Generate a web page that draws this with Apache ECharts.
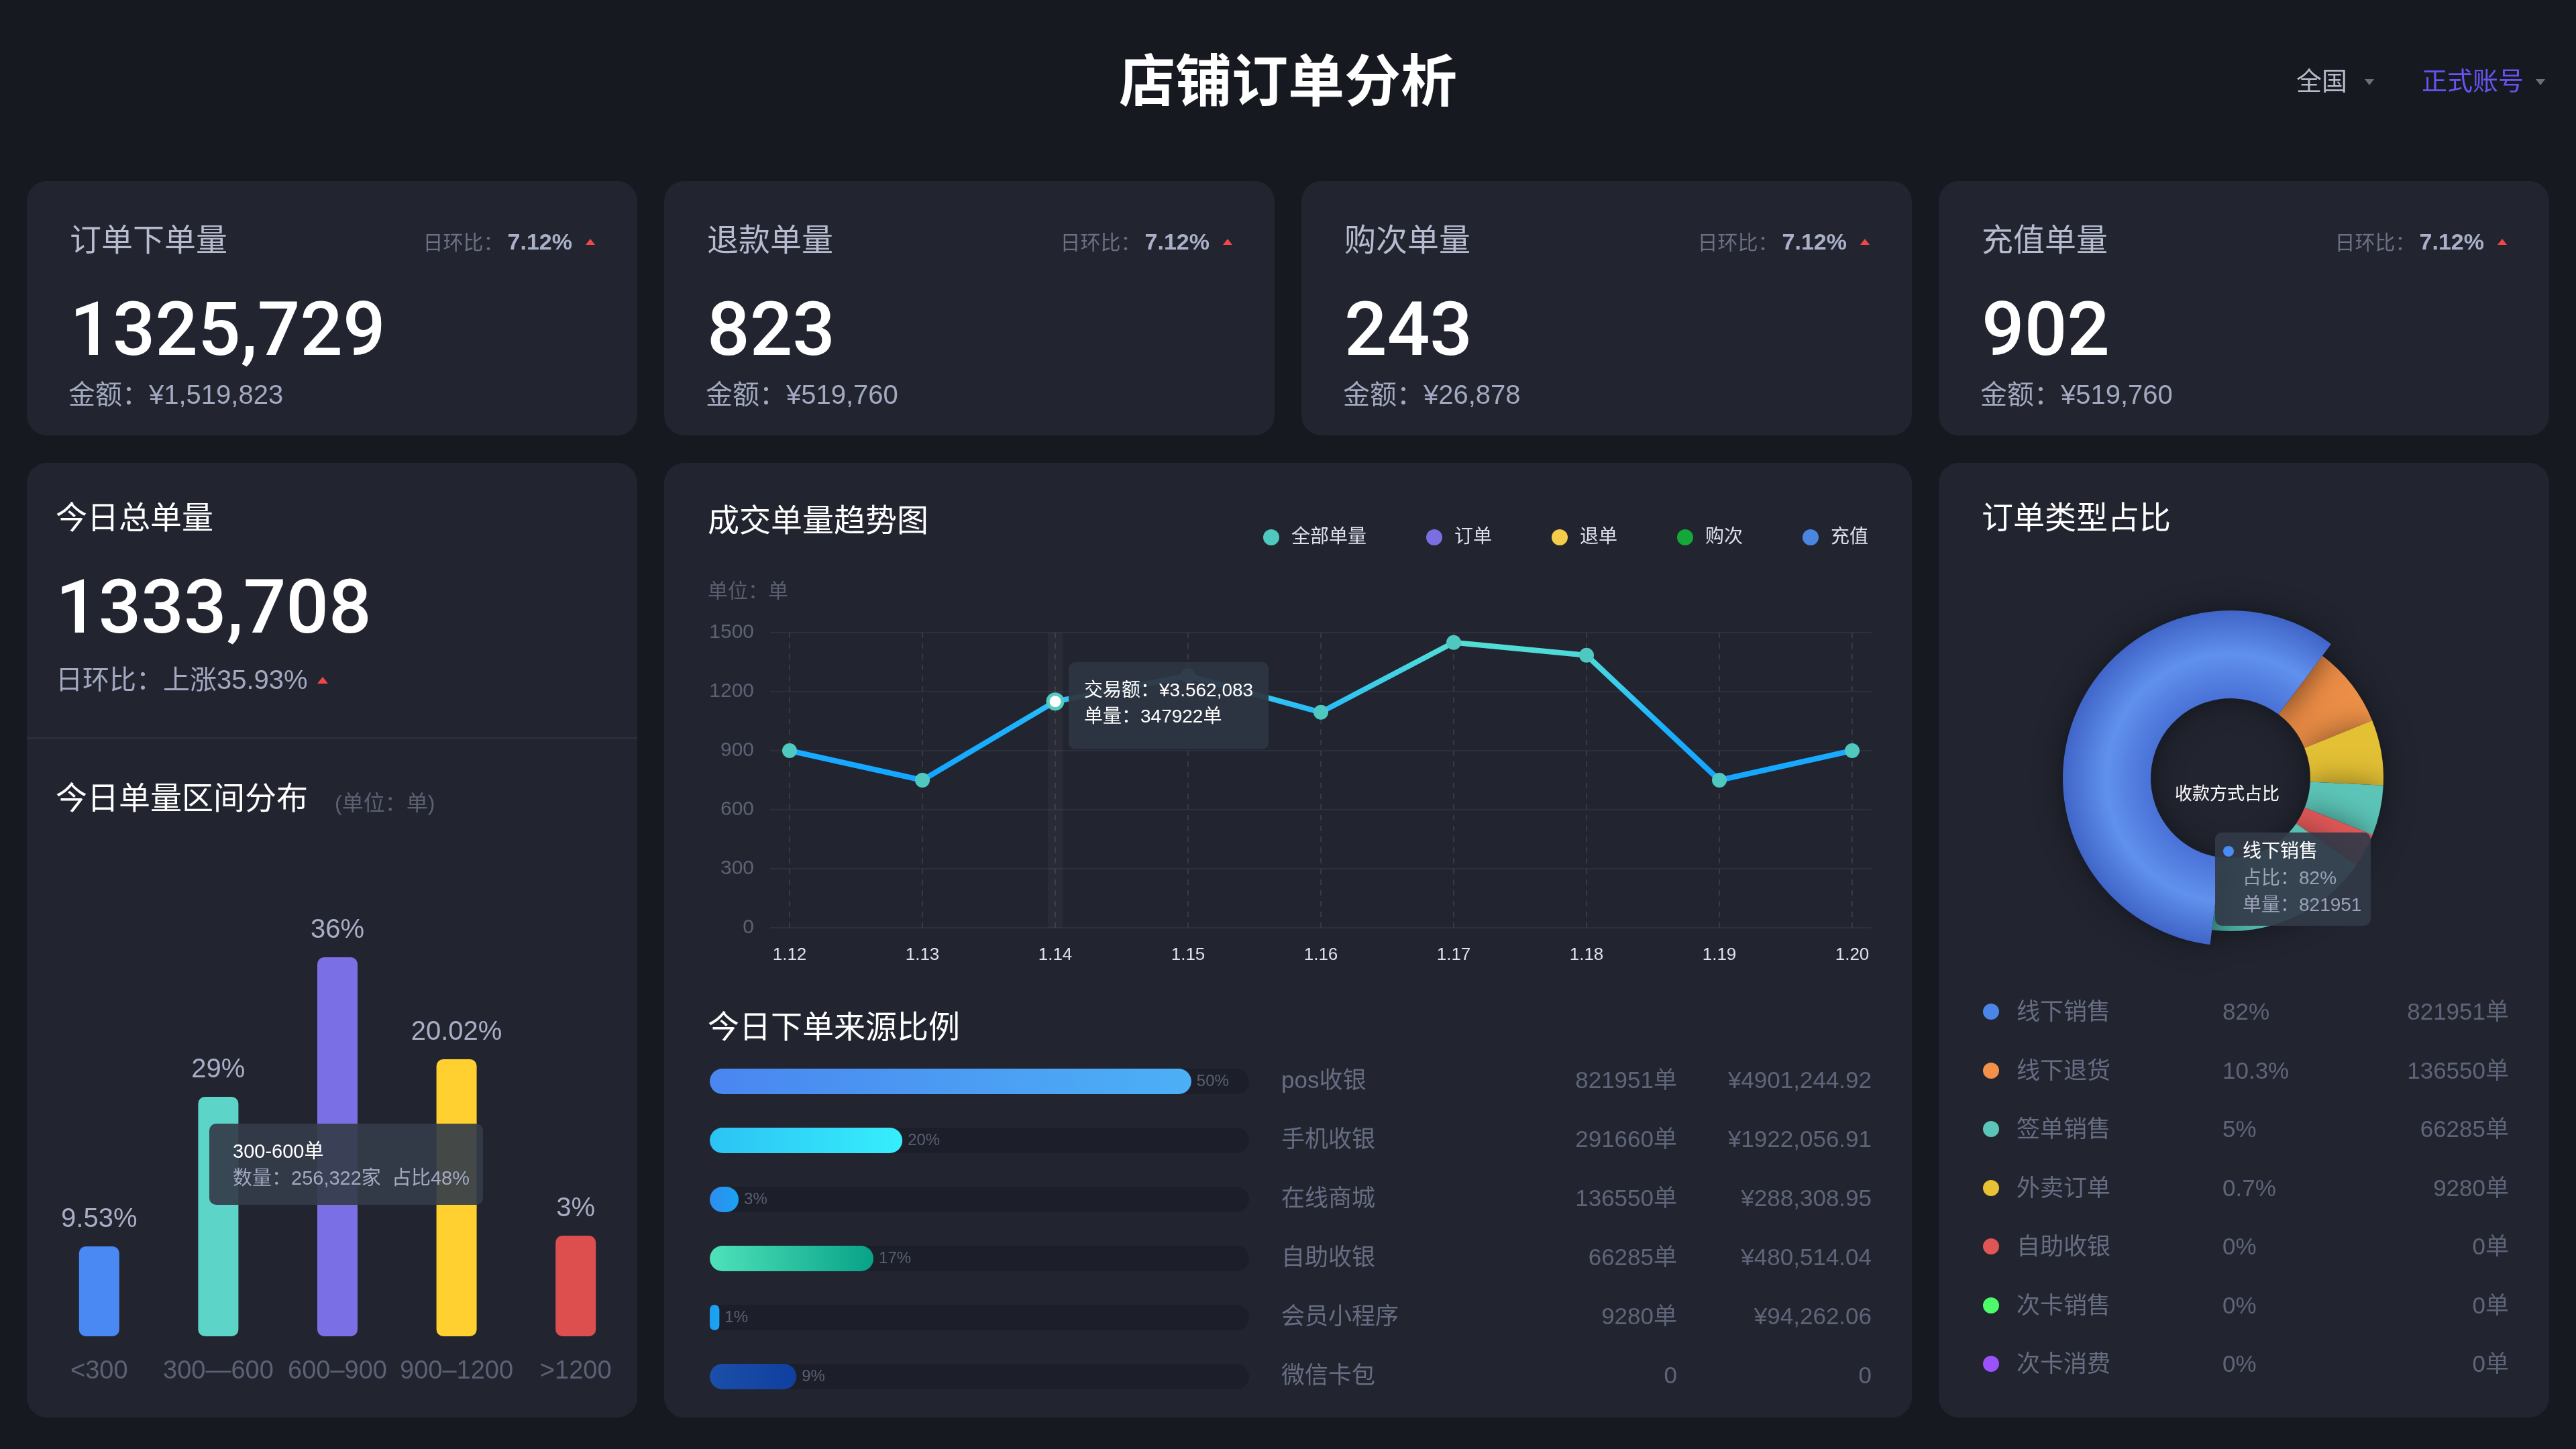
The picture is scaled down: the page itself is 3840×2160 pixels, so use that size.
<!DOCTYPE html>
<html><head><meta charset="utf-8">
<script src="https://cdn.jsdelivr.net/npm/echarts@6/dist/echarts.min.js"></script>
<style>
html,body{margin:0;padding:0;width:3840px;height:2160px;background:#161920;overflow:hidden;font-family:'Liberation Sans','Noto Sans CJK SC',sans-serif;}
.panel{position:absolute;background:#222530;border-radius:30px;}
.t{position:absolute;white-space:nowrap;}
.chart{position:absolute;left:0;top:0;width:3840px;height:2160px;}
.tri{display:inline-block;width:0;height:0;vertical-align:middle;}
.num{font-family:Roboto,'Liberation Sans',sans-serif;font-weight:500;}
</style></head><body>
<script>
// ---------------- data ----------------
const pageTitle = '店铺订单分析';
const cardTitles = ['订单下单量', '退款单量', '购次单量', '充值单量'];
const cardCounts = ['1325,729', '823', '243', '902'];
const cardAmounts = ['¥1,519,823', '¥519,760', '¥26,878', '¥519,760'];
const cardRatios = ['7.12%', '7.12%', '7.12%', '7.12%'];

const totalOrders = '1333,708';
const totalRise = '35.93%';

const rangeCats = ['<300', '300—600', '600–900', '900–1200', '>1200'];
const rangeValues = [134, 357, 565, 413, 150];
const rangeLabels = ['9.53%', '29%', '36%', '20.02%', '3%'];
const rangeColors = ['#4a89f3', '#5cd4c8', '#7b6fe6', '#ffd02f', '#dd4f4f'];
const rangeTip = { index: 1, title: '300-600单', count: '256,322家', share: '占比48%' };

const trendDates = ['1.12', '1.13', '1.14', '1.15', '1.16', '1.17', '1.18', '1.19', '1.20'];
const trendAll = [900, 750, 1150, 1280, 1095, 1450, 1385, 750, 900];
const trendLegend = ['全部单量', '订单', '退单', '购次', '充值'];
const trendLegendColors = ['#4fc9c0', '#7a6fe0', '#f5cd4a', '#14a83a', '#4a86e0'];
const trendTip = { index: 2, amount: '¥3.562,083', count: '347922单' };

const sourceNames = ['pos收银', '手机收银', '在线商城', '自助收银', '会员小程序', '微信卡包'];
const sourceShares = [50, 20, 3, 17, 1, 9];
const sourceCounts = ['821951单', '291660单', '136550单', '66285单', '9280单', '0'];
const sourceAmounts = ['¥4901,244.92', '¥1922,056.91', '¥288,308.95', '¥480,514.04', '¥94,262.06', '0'];
const sourceColors = [['#4a86f0', '#4cb0f6'], ['#2cc3f4', '#36eefc'], ['#2f8cef', '#1aa2f2'], ['#4fe2ba', '#08a288'], ['#1d9cf0', '#19a6f2'], ['#1b4fa9', '#0f3f9f']];

const typeNames = ['线下销售', '线下退货', '签单销售', '外卖订单', '自助收银', '次卡销售', '次卡消费'];
const typeShares = ['82%', '10.3%', '5%', '0.7%', '0%', '0%', '0%'];
const typeCounts = [821951, 136550, 66285, 9280, 0, 0, 0];
const typeColors = ['#4a86e8', '#f39149', '#5bc5b8', '#e7c234', '#e05656', '#4dfb6a', '#9b51fb'];

const pieNames = ['线下销售', '线下退货', '外卖订单', '签单销售', '自助收银', '其他'];
const pieValues = [58.3, 8.6, 6.9, 5.3, 3.6, 17.3];
const pieCenterText = '收款方式占比';

const FONT = "'Liberation Sans','Noto Sans CJK SC',sans-serif";

// ---------------- layout helpers ----------------
function box(x, y, w, h, cls, style) {
  const d = document.createElement('div'); d.className = cls || '';
  d.style.position = 'absolute'; d.style.left = x + 'px'; d.style.top = y + 'px';
  d.style.width = w + 'px'; d.style.height = h + 'px';
  if (style) Object.assign(d.style, style);
  document.body.appendChild(d); return d;
}
function T(x, cy, html, size, color, o) {
  o = o || {};
  const d = document.createElement('div'); d.className = 't' + (o.cls ? ' ' + o.cls : '');
  d.style.fontSize = size + 'px'; d.style.lineHeight = (size * 1.2) + 'px'; d.style.color = color;
  d.style.top = (cy - size * 0.6) + 'px';
  if (o.align === 'right') { d.style.left = (x - 3000) + 'px'; d.style.width = '3000px'; d.style.textAlign = 'right'; }
  else if (o.align === 'center') { d.style.left = (x - 1500) + 'px'; d.style.width = '3000px'; d.style.textAlign = 'center'; }
  else d.style.left = x + 'px';
  if (o.weight) d.style.fontWeight = o.weight;
  d.innerHTML = html; document.body.appendChild(d); return d;
}
function triHtml(dir, w, h, color, ml) {
  const half = w / 2;
  const b = dir === 'up'
    ? `border-left:${half}px solid transparent;border-right:${half}px solid transparent;border-bottom:${h}px solid ${color};`
    : `border-left:${half}px solid transparent;border-right:${half}px solid transparent;border-top:${h}px solid ${color};`;
  return `<span class="tri" style="${b}margin-left:${ml}px;position:relative;top:-2px"></span>`;
}

// panels
for (let i = 0; i < 4; i++) box(40 + 950 * i, 270, 910, 379, 'panel');
box(40, 690, 910, 1423, 'panel');
box(990, 690, 1860, 1423, 'panel');
box(2890, 690, 910, 1423, 'panel');
box(40, 1099, 910, 3, '', { background: '#2c2f3b' });

// chart containers
const c1 = box(0, 0, 3840, 2160, 'chart');
const c2 = box(0, 0, 3840, 2160, 'chart');
const c3 = box(0, 0, 3840, 2160, 'chart');

// header
T(1920, 122, pageTitle, 84, '#ffffff', { align: 'center', weight: 'bold' });
T(3423, 122, '全国' + triHtml('down', 14, 9, '#6b6f7d', 26), 38, '#b5b9c9');
T(3610, 122, '正式账号' + triHtml('down', 14, 9, '#6b6f7d', 18), 38, '#6655ee');

// top cards
for (let i = 0; i < 4; i++) {
  const cx = 40 + 950 * i;
  T(cx + 64, 358, cardTitles[i], 47, '#b6bbd0');
  T(cx + 910 - 63, 360,
    `<span style="font-size:30px;color:#6b7084">日环比：</span><span style="font-size:34px;font-weight:bold;color:#aab0c8;margin-left:6px">${cardRatios[i]}</span>` + triHtml('up', 14, 9, '#f04848', 20),
    34, '#aab0c8', { align: 'right' });
  T(cx + 64, 491, cardCounts[i], 112, '#ffffff', { cls: 'num' });
  T(cx + 62, 588, '金额：' + cardAmounts[i], 40, '#a3a9c0');
}

// left panel texts
T(83, 772, '今日总单量', 47, '#ffffff');
T(83, 905, totalOrders, 112, '#ffffff', { cls: 'num' });
T(83, 1013, '日环比：上涨' + totalRise + triHtml('up', 16, 10, '#f04848', 14), 40, '#a3a9c0');
T(83, 1190, '今日单量区间分布', 47, '#ffffff');
T(499, 1197, '(单位：单)', 32, '#5b6072');

// middle panel texts
T(1055, 776, '成交单量趋势图', 47, '#ffffff');
T(1055, 881, '单位：单', 30, '#595e70');
T(1055, 1531, '今日下单来源比例', 47, '#ffffff');

// right panel texts
T(2954, 772, '订单类型占比', 47, '#ffffff');
for (let i = 0; i < typeNames.length; i++) {
  const cy = 1508 + 87.5 * i;
  box(2956, cy - 12, 24, 24, '', { borderRadius: '12px', background: typeColors[i] });
  T(3006, cy, typeNames[i], 35, '#676d82');
  T(3313, cy, typeShares[i], 35, '#5f6579');
  T(3740, cy, typeCounts[i] + '单', 35, '#5f6579', { align: 'right' });
}

// ---------------- chart 1: range bars ----------------
const ch1 = echarts.init(c1);
ch1.setOption({
  animation: false,
  textStyle: { fontFamily: FONT },
  grid: { left: 59, top: 1392, width: 888, height: 600 },
  xAxis: { type: 'category', data: rangeCats, axisLine: { show: false }, axisTick: { show: false },
    axisLabel: { fontSize: 38, color: '#5c6176', margin: 34, interval: 0 } },
  yAxis: { type: 'value', min: 0, max: 600, show: false },
  tooltip: {
    trigger: 'item', triggerOn: 'none', alwaysShowContent: true, transitionDuration: 0,
    position: [312, 1675], backgroundColor: 'rgba(52,60,74,0.92)', borderWidth: 0,
    padding: [21, 20, 20, 35], extraCssText: 'border-radius:10px;box-shadow:none;',
    formatter: () => `<div style="line-height:40px;font-size:29px;color:#fff;font-family:${FONT}">${rangeTip.title}</div>` +
      `<div style="line-height:40px;font-size:29px;color:#a3a9c0;font-family:${FONT}">数量：${rangeTip.count}&nbsp;&nbsp;${rangeTip.share}</div>`
  },
  series: [{
    type: 'bar', barWidth: 60,
    data: rangeValues.map((v, i) => ({ value: v, itemStyle: { color: rangeColors[i] } })),
    itemStyle: { borderRadius: 10 },
    label: { show: true, position: 'top', distance: 20, fontSize: 40, color: '#a9aec6',
      formatter: p => rangeLabels[p.dataIndex] },
    emphasis: { disabled: true }
  }]
});
ch1.dispatchAction({ type: 'showTip', seriesIndex: 0, dataIndex: rangeTip.index });

// ---------------- chart 2: trend + sources ----------------
const ch2 = echarts.init(c2);
const lgSeries = trendLegend.slice(1).map((n, i) => ({
  name: n, type: 'line', xAxisIndex: 1, yAxisIndex: 1, data: [],
  itemStyle: { color: trendLegendColors[i + 1] }
}));
ch2.setOption({
  animation: false,
  textStyle: { fontFamily: FONT },
  legend: {
    right: 1050, top: 782, itemWidth: 24, itemHeight: 24, icon: 'circle', itemGap: 89,
    textStyle: { color: '#dfe2ea', fontSize: 28, padding: [0, 0, 0, 13] },
    data: trendLegend.map((n, i) => ({ name: n, itemStyle: { color: trendLegendColors[i] } }))
  },
  grid: [
    { left: 1148, top: 943, width: 1642, height: 440 },
    { left: 1177, top: 943, width: 1584, height: 440 },
    { left: 1058, top: 1568, width: 804, height: 528 }
  ],
  xAxis: [
    { gridIndex: 0, type: 'value', show: false, min: 0, max: 1 },
    { gridIndex: 1, type: 'category', boundaryGap: false, data: trendDates,
      axisLine: { show: false }, axisTick: { show: false },
      axisLabel: { color: '#e0e3ea', fontSize: 26, margin: 28, interval: 0 },
      splitLine: { show: true, lineStyle: { color: '#363a48', type: [8, 8], width: 2 } } },
    { gridIndex: 2, type: 'value', show: false, min: 0, max: 56 }
  ],
  yAxis: [
    { gridIndex: 0, type: 'value', min: 0, max: 1500, interval: 300,
      axisLabel: { color: '#5d6275', fontSize: 30, margin: 24, formatter: v => String(v) },
      axisLine: { show: false }, axisTick: { show: false },
      splitLine: { lineStyle: { color: '#2c303c', width: 2 } } },
    { gridIndex: 1, type: 'value', min: 0, max: 1500, show: false },
    { gridIndex: 2, type: 'category', inverse: true, data: sourceNames, position: 'right',
      axisLine: { show: false }, axisTick: { show: false }, splitLine: { show: false },
      axisLabel: {
        margin: 48, align: 'left', interval: 0,
        formatter: (v, i) => `{n|${sourceNames[i]}}{c|${sourceCounts[i]}}{a|${sourceAmounts[i]}}`,
        rich: {
          n: { width: 400, align: 'left', fontSize: 35, color: '#676d82', fontFamily: FONT },
          c: { width: 190, align: 'right', fontSize: 35, color: '#5f6579', fontFamily: FONT },
          a: { width: 290, align: 'right', fontSize: 35, color: '#5f6579', fontFamily: FONT }
        }
      } }
  ],
  tooltip: {
    trigger: 'axis', triggerOn: 'none', alwaysShowContent: true, transitionDuration: 0,
    position: [1593, 987], backgroundColor: 'rgba(46,53,66,0.94)', borderWidth: 0,
    padding: [22, 23, 30, 23], extraCssText: 'border-radius:10px;box-shadow:none;',
    axisPointer: { type: 'line', lineStyle: { color: 'rgba(255,255,255,0.018)', width: 22, type: 'solid' } },
    formatter: () => `<div style="line-height:39px;font-size:28px;color:#fff;font-family:${FONT}">交易额：${trendTip.amount}</div>` +
      `<div style="line-height:39px;font-size:28px;color:#fff;font-family:${FONT}">单量：${trendTip.count}</div>`
  },
  series: [{
    name: trendLegend[0], type: 'line', xAxisIndex: 1, yAxisIndex: 1, data: trendAll,
    symbol: 'circle', symbolSize: 22, z: 5,
    lineStyle: { width: 8, color: { type: 'linear', x: 0, y: 0, x2: 0, y2: 1,
      colorStops: [{ offset: 0, color: '#4fcbc0' }, { offset: 0.3, color: '#38bcd5' }, { offset: 0.6, color: '#1aa0ee' }, { offset: 1, color: '#1296f3' }] } },
    itemStyle: { color: '#4fc9c0' },
    emphasis: { scale: false, lineStyle: { width: 8 }, itemStyle: { color: '#ffffff', borderColor: '#4fc9c0', borderWidth: 5 } }
  }].concat(lgSeries).concat([{
    type: 'bar', xAxisIndex: 2, yAxisIndex: 2, barWidth: 38, silent: true,
    tooltip: { show: false },
    data: sourceShares.map((v, i) => ({ value: v, itemStyle: { color: {
      type: 'linear', x: 0, y: 0, x2: 1, y2: 0,
      colorStops: [{ offset: 0, color: sourceColors[i][0] }, { offset: 1, color: sourceColors[i][1] }] } } })),
    showBackground: true, backgroundStyle: { color: '#1c1f29', borderRadius: 19 },
    itemStyle: { borderRadius: 19 },
    label: { show: true, position: 'right', distance: 8, fontSize: 24, color: '#596074', formatter: '{c}%' },
    emphasis: { disabled: true }
  }])
});
ch2.dispatchAction({ type: 'showTip', seriesIndex: 0, dataIndex: trendTip.index });
ch2.dispatchAction({ type: 'highlight', seriesIndex: 0, dataIndex: trendTip.index });

// ---------------- chart 3: pie ----------------
const ch3 = echarts.init(c3);
const PC = [3325, 1160];
const pieColors = [
  { type: 'radial', x: PC[0], y: PC[1], r: 250, global: true,
    colorStops: [{ offset: 0, color: '#3d5fb9' }, { offset: 0.48, color: '#4468c4' }, { offset: 0.74, color: '#5884d8' }, { offset: 1, color: '#3b5cb6' }] },
  { type: 'linear', x: 0, y: 0, x2: 1, y2: 0.6,
    colorStops: [{ offset: 0, color: '#bb6e38' }, { offset: 0.5, color: '#e78944' }, { offset: 1, color: '#f3954a' }] },
  '#e3c034', '#5cc5b8', '#e05757',
  { type: 'linear', x: 0, y: 0, x2: 1, y2: 0,
    colorStops: [{ offset: 0, color: '#3f9c94' }, { offset: 0.4, color: '#56bcae' }, { offset: 1, color: '#5cc5b8' }] }
];
ch3.setOption({
  animation: false,
  textStyle: { fontFamily: FONT },
  title: { text: pieCenterText, left: PC[0] - 10, top: 1167, textAlign: 'center',
    textStyle: { color: '#ffffff', fontSize: 26, fontWeight: 'normal', fontFamily: FONT } },
  tooltip: {
    trigger: 'item', triggerOn: 'none', alwaysShowContent: true, transitionDuration: 0,
    position: [3302, 1241], backgroundColor: 'rgba(50,58,72,0.92)', borderWidth: 0,
    padding: [8, 14, 11, 12], extraCssText: 'border-radius:10px;box-shadow:none;',
    formatter: p => {
      const k = typeNames.indexOf(p.name);
      return `<div style="line-height:40px;font-size:28px;color:#fff;font-family:${FONT}"><span style="display:inline-block;width:16px;height:16px;border-radius:8px;background:#4a8cf5;margin-right:13px;vertical-align:middle;position:relative;top:-2px"></span>${p.name}</div>` +
        `<div style="line-height:40px;font-size:28px;color:#9ca2b9;padding-left:29px;font-family:${FONT}">占比：${typeShares[k]}</div>` +
        `<div style="line-height:40px;font-size:28px;color:#9ca2b9;padding-left:29px;font-family:${FONT}">单量：${typeCounts[k]}</div>`;
    }
  },
  series: [{
    type: 'pie', center: PC, radius: [119, 228], startAngle: 263, clockwise: true,
    label: { show: false }, labelLine: { show: false },
    itemStyle: { shadowBlur: 45, shadowColor: 'rgba(0,0,0,0.45)' },
    emphasis: { scale: true, scaleSize: 22, label: { show: false } },
    data: pieValues.map((v, i) => ({ name: pieNames[i], value: v, itemStyle: { color: pieColors[i] } }))
  }]
});
ch3.dispatchAction({ type: 'highlight', seriesIndex: 0, dataIndex: 0 });
ch3.dispatchAction({ type: 'showTip', seriesIndex: 0, dataIndex: 0 });
</script>
</body></html>
